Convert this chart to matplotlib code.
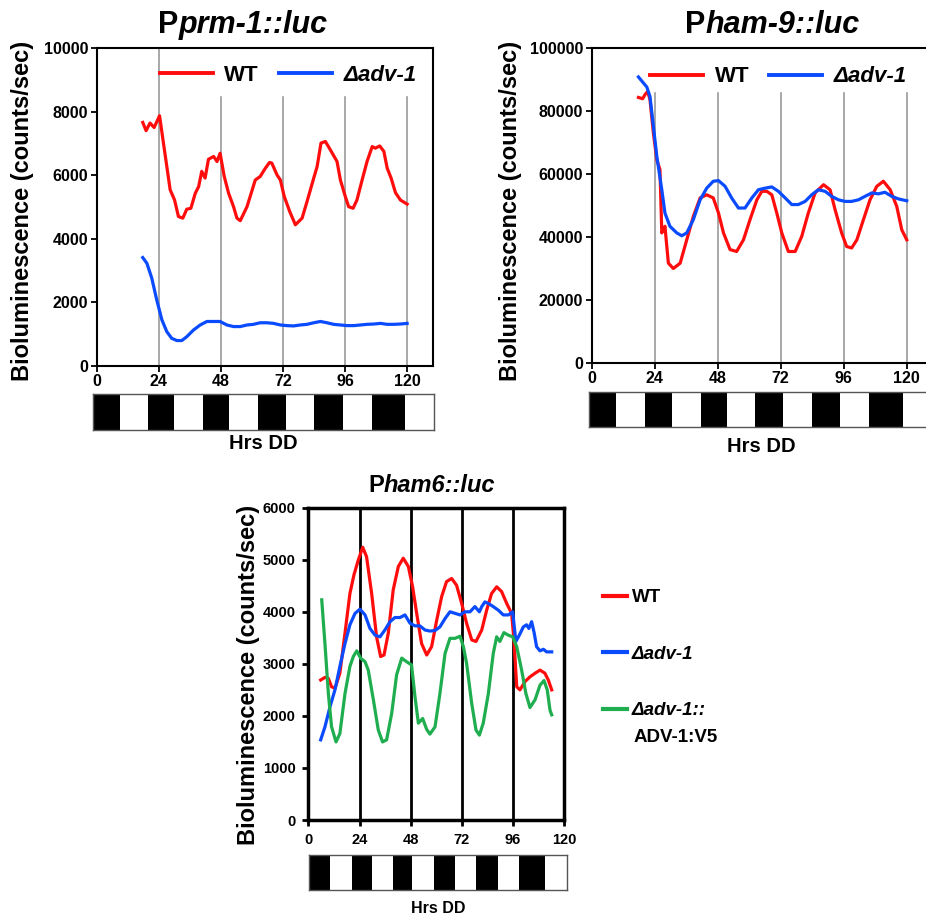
import matplotlib.pyplot as plt
from matplotlib.lines import Line2D

plt.rcParams['font.family'] = ['Liberation Sans', 'DejaVu Sans']
plt.rcParams['font.weight'] = 'bold'

RED = '#ff0d0d'
BLUE = '#0a4bff'
GREEN = '#1fae4f'

# ---- Pprm-1::luc ----
prm_wt_t = [17.8, 19.1, 20.6, 22.2, 24.3, 25.8, 28.4, 30.1, 31.6, 33.3, 34.8, 36.4, 38.1,
            39.4, 40.6, 41.9, 43.2, 45.2, 46.5, 47.7, 49.3, 51.0, 52.9, 54.2, 55.5, 58.1,
            61.3, 63.2, 65.2, 66.8, 67.7, 69.7, 71.0, 72.5, 74.6, 76.8, 79.4, 81.3, 83.9,
            85.2, 86.7, 88.4, 90.3, 92.9, 94.2, 96.1, 97.4, 99.1, 100.6, 102.6, 104.5,
            106.5, 107.7, 109.4, 111.0, 112.3, 113.8, 115.5, 117.4, 120.0]
prm_wt = [7660, 7400, 7640, 7500, 7870, 7010, 5540, 5220, 4700, 4650, 4930, 4960, 5430,
          5640, 6120, 5910, 6500, 6590, 6430, 6690, 5960, 5430, 5010, 4650, 4570, 5010,
          5850, 5960, 6220, 6400, 6380, 6010, 5850, 5330, 4860, 4440, 4650, 5170, 5910,
          6270, 7010, 7060, 6800, 6430, 5850, 5330, 5010, 4960, 5220, 5850, 6430,
          6900, 6850, 6920, 6750, 6220, 5910, 5450, 5220, 5090]
prm_adv_t = [17.8, 19.4, 21.3, 23.2, 25.2, 27.1, 29.0, 31.0, 32.9, 34.8, 37.4, 40.0, 42.6,
             45.2, 47.7, 50.3, 52.9, 55.5, 58.1, 60.6, 63.2, 65.8, 68.4, 71.0, 73.5, 76.1,
             78.7, 81.3, 83.9, 86.5, 89.0, 91.6, 94.2, 96.8, 99.4, 101.9, 104.5, 107.1,
             109.7, 112.3, 114.8, 117.4, 120.0]
prm_adv = [3410, 3230, 2760, 2080, 1450, 1080, 870, 800, 800, 920, 1130, 1290, 1400,
           1400, 1400, 1290, 1240, 1240, 1290, 1310, 1360, 1360, 1340, 1290, 1270, 1260,
           1290, 1310, 1360, 1400, 1360, 1310, 1290, 1270, 1270, 1290, 1310, 1320,
           1340, 1310, 1310, 1320, 1340]

# ---- Pham-9::luc ----
ham9_wt_t = [17.8, 19.4, 20.3, 21.3, 22.2, 23.5, 24.8, 26.0, 26.7, 27.3, 27.9, 29.2, 31.1,
             33.7, 36.2, 38.7, 41.3, 43.8, 46.3, 48.3, 50.2, 52.7, 55.2, 57.8, 60.3, 62.9,
             64.8, 66.7, 68.6, 70.5, 72.4, 74.9, 77.5, 80.0, 82.5, 85.1, 88.3, 90.8, 92.7,
             95.2, 97.1, 99.0, 101.0, 103.5, 106.0, 108.6, 111.1, 113.7, 116.2, 118.1, 120.0]
ham9_wt = [84300, 83900, 85200, 86200, 83600, 73000, 64500, 61400, 41300, 42300, 43400,
           31700, 30000, 31700, 39100, 46500, 52400, 53400, 52400, 47600, 41300, 36000,
           35400, 39100, 45500, 51800, 54500, 54500, 53400, 47600, 41300, 35400, 35400,
           40200, 47600, 54000, 56600, 55000, 48700, 41300, 37000, 36500, 39100, 45500,
           51800, 56100, 57700, 55000, 49700, 42300, 39100]
ham9_adv_t = [17.8, 19.7, 21.0, 22.2, 23.5, 24.8, 26.7, 27.9, 29.8, 32.4, 34.3, 36.2, 38.7,
              41.3, 43.8, 46.3, 48.3, 50.8, 53.3, 55.9, 58.4, 61.0, 63.5, 66.0, 68.6, 71.1,
              73.7, 76.2, 78.7, 81.3, 83.8, 86.3, 88.9, 91.4, 94.0, 96.5, 99.0, 101.6,
              104.1, 106.7, 109.2, 111.7, 114.3, 116.8, 120.0]
ham9_adv = [90800, 88900, 87600, 84600, 75100, 65600, 55000, 47600, 43400, 41300, 40400,
            41300, 45500, 51800, 55500, 57700, 57900, 56100, 52400, 49200, 49200, 52400,
            55000, 55500, 55900, 54500, 52400, 50300, 50300, 51300, 53400, 55000, 54500,
            52900, 51800, 51300, 51300, 51800, 52900, 54000, 53700, 54200, 52900, 52100,
            51500]

# ---- Pham6::luc ----
ham6_wt_t = [5.8, 7.8, 9.4, 10.9, 12.5, 14.8, 17.2, 19.5, 21.4, 23.4, 25.5, 27.3, 29.7,
             32.0, 33.9, 35.5, 37.5, 39.8, 42.2, 44.5, 46.9, 48.9, 50.8, 53.1, 55.5, 57.8,
             60.2, 62.5, 64.8, 67.2, 69.5, 71.9, 74.2, 76.6, 78.6, 81.3, 83.6, 85.9, 88.3,
             90.6, 93.0, 95.3, 96.4, 97.7, 99.2, 101.6, 103.9, 106.3, 108.6, 110.9, 112.5,
             114.1]
ham6_wt = [2690, 2740, 2720, 2560, 2530, 2820, 3590, 4350, 4710, 4990, 5240, 5060, 4350,
           3520, 3140, 3170, 3590, 4420, 4870, 5030, 4870, 4480, 3970, 3390, 3170, 3330,
           3840, 4290, 4580, 4640, 4510, 4160, 3780, 3460, 3430, 3650, 4030, 4350, 4480,
           4390, 4160, 3970, 3460, 2560, 2500, 2660, 2750, 2820, 2880, 2820, 2690, 2500]
ham6_adv_t = [5.8, 7.8, 10.2, 12.5, 14.8, 17.2, 19.5, 21.9, 24.2, 26.6, 28.9, 31.3, 33.6,
              35.9, 38.3, 40.6, 43.0, 45.3, 47.7, 50.0, 52.3, 54.7, 57.0, 59.4, 61.7, 64.1,
              66.4, 68.8, 71.1, 73.4, 75.8, 78.1, 80.2, 81.3, 82.8, 84.4, 86.7, 89.1, 91.4,
              93.8, 95.8, 97.3, 98.9, 100.8, 102.3, 103.4, 104.7, 105.9, 107.0, 108.6,
              110.2, 111.7, 114.1]
ham6_adv = [1540, 1790, 2180, 2500, 2950, 3390, 3750, 3970, 4050, 3940, 3680, 3550, 3520,
            3650, 3810, 3890, 3890, 3940, 3780, 3730, 3730, 3650, 3630, 3640, 3710, 3870,
            4000, 3970, 3940, 4000, 4000, 4100, 4000, 4100, 4190, 4160, 4100, 4030, 3940,
            3940, 4000, 3430, 3550, 3710, 3750, 3680, 3810, 3590, 3330, 3250,
            3280, 3230, 3230]
ham6_rescue_t = [6.3, 7.8, 9.4, 10.9, 13.0, 14.8, 17.2, 19.5, 21.1, 22.7, 24.5, 26.6, 28.1,
                 30.5, 32.8, 34.8, 36.7, 39.1, 41.4, 43.8, 46.1, 48.4, 50.0, 51.6, 53.6,
                 55.5, 57.0, 59.4, 61.7, 64.1, 66.4, 68.8, 71.1, 72.7, 74.2, 76.6, 78.6,
                 80.2, 82.0, 84.4, 86.7, 88.3, 89.8, 91.7, 93.8, 95.8, 97.7, 100.0, 102.0,
                 103.9, 106.3, 108.6, 110.5, 112.0, 113.3, 114.1]
ham6_rescue = [4230, 3390, 2430, 1790, 1500, 1660, 2430, 2950, 3140, 3250, 3110, 3040, 2880,
               2310, 1730, 1500, 1540, 2050, 2790, 3110, 3040, 2980, 2370, 1860, 1950,
               1740, 1650, 1790, 2430, 3200, 3490, 3490, 3530, 3330, 3010, 2240, 1730,
               1630, 1860, 2430, 3200, 3520, 3430, 3600, 3550, 3520, 3330, 2880, 2430,
               2160, 2310, 2590, 2680, 2500, 2110, 2020]

# light/dark bar edges (hours), black/white alternating starting with black
ld_prm = [-1.6, 8.8, 20.0, 30.0, 41.3, 51.2, 62.3, 73.2, 84.2, 95.5, 106.5, 119.4, 130.6]
ld_ham9 = [-0.9, 9.3, 20.3, 30.7, 41.5, 51.4, 62.2, 72.7, 83.8, 94.5, 105.6, 118.4, 130.0]
ld_ham6 = [0.5, 10.2, 20.3, 29.7, 39.8, 48.7, 58.9, 68.7, 78.6, 88.7, 98.9, 110.9, 121.0]

hour_ticks = [0, 24, 48, 72, 96, 120]

W, H = 926, 918
fig = plt.figure(figsize=(W / 100, H / 100), dpi=100)


def rect(x0, y0, x1, y1):
    # pixel box (top-left origin) -> figure fraction
    return [x0 / W, 1 - y1 / H, (x1 - x0) / W, (y1 - y0) / H]


def ld_bar(box, edges, size, pad):
    bax = fig.add_axes(rect(*box))
    for i in range(len(edges) - 1):
        bax.axvspan(edges[i], edges[i + 1], color='black' if i % 2 == 0 else 'white', lw=0)
    bax.set_xlim(edges[0], edges[-1])
    bax.set_ylim(0, 1)
    bax.set_xticks([])
    bax.set_yticks([])
    for s in bax.spines.values():
        s.set_color('#555555')
        s.set_linewidth(1)
    bax.set_xlabel('Hrs DD', fontsize=size, fontweight='bold', labelpad=pad)
    return bax


def title(x, y, gene, size):
    # upright bold "P" followed by the italic gene name
    t = fig.text(x / W, 1 - y / H, 'P', fontsize=size, fontweight='bold',
                 va='baseline', ha='left')
    return fig.axes[0].annotate(gene, xy=(1, 0), xycoords=t, va='bottom', ha='left',
                                fontsize=size, fontweight='bold', style='italic',
                                annotation_clip=False)


def ylabel(x, y, size):
    fig.text(x / W, 1 - y / H, 'Bioluminescence (counts/sec)', rotation=90,
             ha='center', va='center', fontsize=size, fontweight='bold')


# ================= top left =================
ax1 = fig.add_axes(rect(96.7, 48, 433, 366))
ax1.plot(prm_wt_t, prm_wt, color=RED, lw=2.3)
ax1.plot(prm_adv_t, prm_adv, color=BLUE, lw=2.3)
for i, h in enumerate(hour_ticks[1:]):
    ax1.axvline(h, ymax=1.0 if i == 0 else 0.846, color='#9a9a9a', lw=1.2, zorder=0)
ax1.set_xlim(0, 130)
ax1.set_ylim(0, 10000)
ax1.set_xticks(hour_ticks)
ax1.set_yticks(range(0, 10001, 2000))
ax1.tick_params(labelsize=11.5, length=4, width=1.3, pad=2)
for s in ax1.spines.values():
    s.set_linewidth(1.5)
leg1 = ax1.legend(handles=[Line2D([], [], color=RED, lw=2.8), Line2D([], [], color=BLUE, lw=2.8)],
                  labels=['WT', 'Δadv-1'], ncol=2, frameon=False, loc='center left',
                  bbox_to_anchor=(0.188, 0.915), borderpad=0, borderaxespad=0,
                  handlelength=2.4, handletextpad=0.5, columnspacing=0.9,
                  prop={'size': 16, 'weight': 'bold'})
leg1.get_texts()[1].set_style('italic')
ld_bar((92.7, 393.5, 434, 430), ld_prm, 14.5, 3)
title(158, 33, 'prm-1::luc', 22)
ylabel(23, 211, 17)

# ================= top right =================
ax2 = fig.add_axes(rect(591.7, 48, 933, 363))
ax2.plot(ham9_wt_t, ham9_wt, color=RED, lw=2.3)
ax2.plot(ham9_adv_t, ham9_adv, color=BLUE, lw=2.3)
for h in hour_ticks[1:]:
    ax2.axvline(h, ymax=0.857, color='#9a9a9a', lw=1.2, zorder=0)
ax2.set_xlim(0, 130)
ax2.set_ylim(0, 100000)
ax2.set_xticks(hour_ticks)
ax2.set_yticks(range(0, 100001, 20000))
ax2.tick_params(labelsize=11.5, length=4, width=1.3, pad=2)
for s in ax2.spines.values():
    s.set_linewidth(1.5)
leg2 = ax2.legend(handles=[Line2D([], [], color=RED, lw=2.8), Line2D([], [], color=BLUE, lw=2.8)],
                  labels=['WT', 'Δadv-1'], ncol=2, frameon=False, loc='center left',
                  bbox_to_anchor=(0.171, 0.908), borderpad=0, borderaxespad=0,
                  handlelength=2.4, handletextpad=0.5, columnspacing=0.9,
                  prop={'size': 16, 'weight': 'bold'})
leg2.get_texts()[1].set_style('italic')
ld_bar((589.3, 392, 933, 427), ld_ham9, 14.5, 7)
title(685, 33, 'ham-9::luc', 22)
ylabel(511, 211, 17)

# ================= bottom =================
ax3 = fig.add_axes(rect(308.3, 507.7, 564.3, 820))
ax3.plot(ham6_wt_t, ham6_wt, color=RED, lw=2.3)
ax3.plot(ham6_adv_t, ham6_adv, color=BLUE, lw=2.3)
ax3.plot(ham6_rescue_t, ham6_rescue, color=GREEN, lw=2.3)
for h in hour_ticks[1:-1]:
    ax3.axvline(h, color='black', lw=2, zorder=0)
ax3.set_xlim(0, 120)
ax3.set_ylim(0, 6000)
ax3.set_xticks(hour_ticks)
ax3.set_yticks(range(0, 6001, 1000))
ax3.tick_params(labelsize=10.5, length=4, width=2, pad=5)
for s in ax3.spines.values():
    s.set_linewidth(2.5)
leg3 = ax3.legend(handles=[Line2D([], [], color=RED, lw=3), Line2D([], [], color=BLUE, lw=3),
                           Line2D([], [], color=GREEN, lw=3)],
                  labels=['WT', 'Δadv-1', 'Δadv-1::'], frameon=False, loc='upper left',
                  bbox_to_anchor=(603 / W, 1 - 589 / H), bbox_transform=fig.transFigure,
                  borderpad=0, borderaxespad=0, handlelength=1.3, handletextpad=0.25,
                  labelspacing=2.1, prop={'size': 13.5, 'weight': 'bold'})
leg3.get_texts()[1].set_style('italic')
leg3.get_texts()[2].set_style('italic')
fig.text(634 / W, 1 - 738 / H, 'ADV-1:V5', fontsize=13.5, fontweight='bold',
         va='center', ha='left')
ld_bar((309.3, 855, 566.7, 890), ld_ham6, 11.5, 8)
title(368, 492, 'ham6::luc', 17)
ylabel(249, 675, 17)

fig.savefig('out.png', dpi=100)
